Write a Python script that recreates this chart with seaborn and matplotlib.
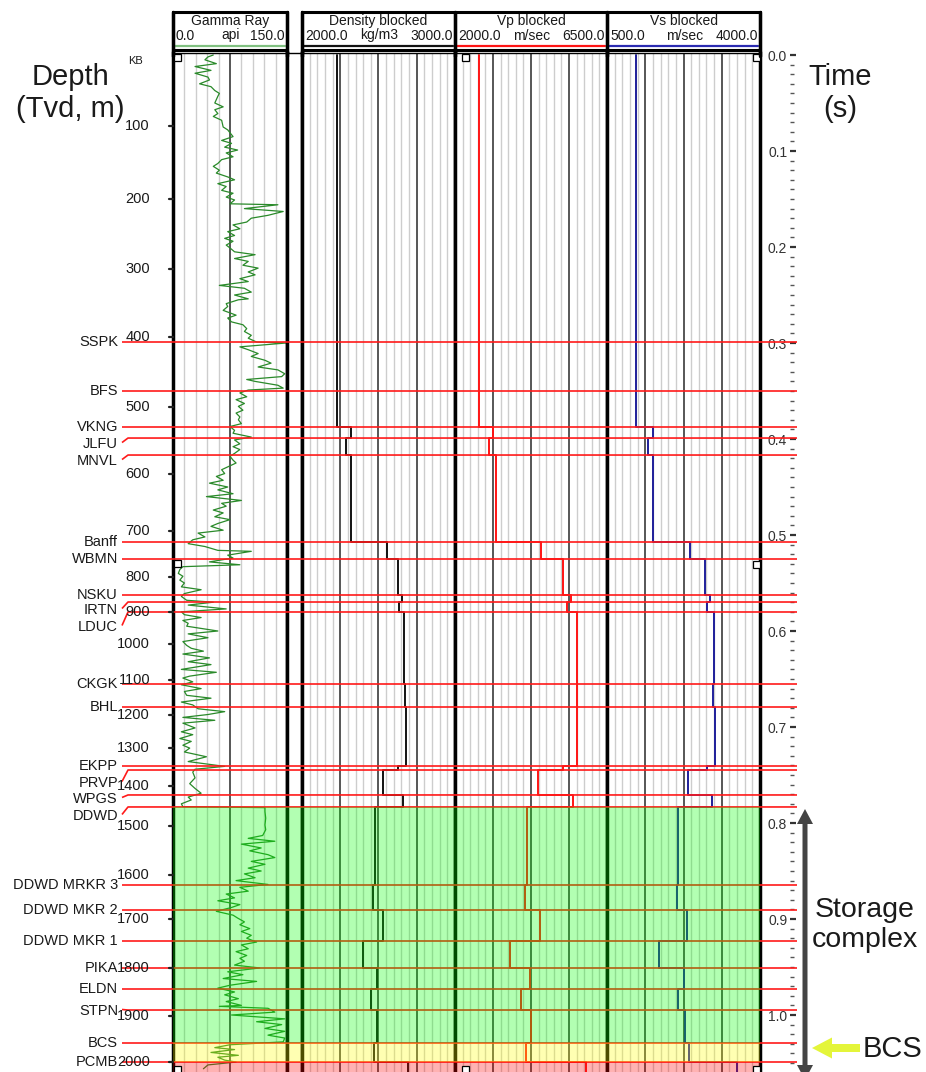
import numpy as np
import pandas as pd
import matplotlib
matplotlib.use("Agg")
import matplotlib.pyplot as plt
import seaborn as sns
from matplotlib.patches import Rectangle, FancyArrow
from matplotlib.ticker import MultipleLocator, FormatStrFormatter

sns.set_style("white")
plt.rcParams["font.family"] = ["Liberation Sans", "DejaVu Sans"]

# ------------------------------------------------------------------ data
# formation tops (two-way time, ms)
top_names = ["SSPK", "BFS", "VKNG", "JLFU", "MNVL", "Banff", "WBMN", "NSKU", "IRTN",
             "LDUC", "CKGK", "BHL", "EKPP", "PRVP", "WPGS", "DDWD", "DDWD MRKR 3",
             "DDWD MKR 2", "DDWD MKR 1", "PIKA", "ELDN", "STPN", "BCS", "PCMB"]
top_times_ms = [299.0, 350.0, 387.5, 399.0, 416.7, 507.3, 525.0, 562.5, 569.8,
                580.2, 655.2, 679.2, 740.6, 744.8, 770.8, 783.3, 864.6,
                890.6, 922.9, 951.0, 972.9, 994.8, 1029.2, 1049.0]

# blocked logs: top of each block (ms) and block values
block_tops_ms = [0.0, 387.5, 399.0, 416.7, 507.3, 525.0, 562.5, 569.8, 580.2, 655.2,
                 679.2, 740.6, 744.8, 770.8, 783.3, 864.6, 890.6, 922.9, 951.0,
                 972.9, 994.8, 1029.2, 1049.0]
density_kgm3 = [2230, 2320, 2290, 2320, 2555, 2630, 2655, 2635, 2665, 2673,
                2680, 2630, 2530, 2660, 2475, 2465, 2530, 2400, 2490,
                2450, 2490, 2470, 2695]
vp_mps = [2710, 3125, 3005, 3215, 4545, 5195, 5434, 5316, 5612, 5600,
          5612, 5197, 4457, 5493, 4131, 4072, 4516, 3628, 4220,
          3954, 4250, 4102, 5878]
vs_mps = [1163, 1552, 1438, 1552, 2399, 2742, 2856, 2788, 2948, 2925,
          2971, 2788, 2353, 2902, 2124, 2101, 2330, 1690, 2261,
          2124, 2284, 2376, 3474]
log_end_ms = 1060.0

# coloured zones (storage complex, BCS, below PCMB)
zone_tops_ms = [783.3, 1029.2, 1049.0]
zone_bases_ms = [1029.2, 1049.0, 1060.0]
zone_colors = [(0.0, 1.0, 0.0), (1.0, 1.0, 0.0), (1.0, 0.0, 0.0)]

# depth (TVD, m) tick labels and their two-way time (ms)
depth_labels = ["KB", "100", "200", "300", "400", "500", "600", "700", "800", "900",
                "1000", "1100", "1200", "1300", "1400", "1500", "1600", "1700",
                "1800", "1900", "2000"]
depth_tick_ms = [0.0, 74.0, 150.0, 222.9, 293.8, 366.7, 436.5, 495.8, 543.8, 580.2,
                 613.5, 651.0, 687.5, 721.9, 761.5, 803.1, 854.2, 900.0,
                 951.0, 1001.0, 1049.0]

# gamma ray (api) vs two-way time (ms)
gr_time_ms = [
    0, 2, 5, 9, 12, 16, 19, 23, 26, 30, 33, 37, 40, 43, 50, 54, 57, 61, 64, 68,
    75, 78, 85, 89, 92, 96, 99, 102, 106, 109, 113, 116, 120, 123, 127, 130, 134, 137, 141, 144,
    148, 151, 155, 156, 160, 163, 167, 170, 174, 177, 181, 184, 188, 191, 194, 198, 201, 205, 208, 212,
    215, 219, 222, 226, 229, 233, 236, 240, 243, 247, 250, 254,
    255, 259, 262, 266, 271, 274, 278, 281, 285, 288, 292, 295, 299, 300, 304, 307, 311, 314, 318, 321,
    325, 328, 332, 335, 338, 340, 344, 347, 349, 352, 356, 359, 363, 366, 370, 373, 377, 380, 384, 387,
    391, 394, 398, 401, 405, 408, 411, 415, 418, 422, 425, 429, 432, 436, 439, 443, 446, 450, 453, 457,
    460, 464, 467, 470, 474, 477, 481, 484, 488, 491, 495, 498, 502, 505, 509,
    512, 516, 517, 521, 524, 528, 531, 533, 536, 540, 543, 547, 550, 554, 557, 561, 564, 568, 570, 573,
    577, 580, 583, 586, 589, 592, 595, 600, 603, 607, 611, 615, 618, 621, 624, 628, 632, 635, 640, 643,
    647, 649, 653, 656, 660, 663, 667, 670, 674, 677, 681, 684, 687, 690, 693, 696, 701, 705, 708, 712,
    715, 719, 722, 726, 731, 736, 741, 744, 747, 753, 759, 764, 769, 773, 776, 780, 783,
    784, 788, 795, 802, 807, 813, 816, 819, 822, 826, 829, 833, 836, 840, 843, 847, 850, 853, 857, 860,
    864, 867, 871, 874, 878, 881, 885, 888, 892, 896, 899, 903, 906, 910, 913, 917, 920, 924, 927, 931,
    934, 938, 941, 944, 948, 951, 955, 958, 962, 965, 969, 972, 976, 979, 983, 986, 990, 991, 993, 997,
    1000, 1004, 1007, 1010, 1014, 1017, 1021, 1024, 1028, 1031, 1034, 1036, 1039, 1042, 1044, 1047,
    1049, 1052, 1056]
gr_api = [
    53, 46, 42, 57, 29, 50, 29, 46, 48, 35, 50, 55, 61, 59, 55, 66, 55, 59, 53, 64,
    66, 72, 79, 64, 77, 68, 85, 70, 79, 64, 59, 53, 61, 57, 72, 81, 59, 70, 64, 79,
    70, 81, 75, 138, 94, 145, 125, 103, 97, 79, 88, 72, 81, 68, 79, 70, 75, 81, 108, 81,
    99, 92, 112, 99, 108, 88, 99, 61, 94, 103, 81, 99,
    86, 70, 72, 66, 83, 72, 77, 92, 97, 94, 103, 99, 110, 149, 88, 99, 112, 103, 121, 129,
    112, 138, 147, 143, 97, 108, 138, 145, 99, 88, 97, 83, 94, 86, 92, 83, 88, 86, 90, 75,
    81, 79, 103, 81, 88, 79, 88, 81, 75, 79, 83, 72, 64, 68, 57, 66, 48, 72, 59, 79,
    44, 90, 64, 70, 53, 66, 55, 75, 59, 50, 66, 33, 42, 26, 20,
    42, 59, 103, 72, 79, 48, 88, 13, 9, 7, 13, 9, 15, 11, 37, 15, 11, 18, 53, 20,
    70, 11, 15, 37, 13, 20, 18, 59, 20, 46, 13, 18, 24, 40, 13, 48, 20, 50, 11, 57,
    22, 13, 26, 11, 37, 15, 18, 50, 11, 26, 33, 68, 46, 13, 55, 13, 29, 11, 26, 9,
    24, 13, 22, 15, 44, 20, 68, 29, 26, 29, 22, 29, 37, 20, 24, 11, 13,
    121, 121, 122, 121, 122, 118, 99, 134, 90, 116, 101, 125, 134, 103, 121, 99, 116, 94, 108, 83,
    125, 88, 99, 70, 81, 59, 88, 77, 57, 79, 85, 94, 88, 101, 90, 103, 97, 110, 90, 99,
    83, 97, 88, 94, 81, 114, 72, 92, 66, 110, 75, 59, 81, 68, 86, 70, 90, 61, 125, 134,
    77, 147, 110, 143, 121, 147, 125, 147, 145, 75, 55, 81, 50, 86, 59, 68,
    83, 46, 40]

# ------------------------------------------------------------------ layout (pixels)
W, H, DPI = 926, 1072, 100
PX_PER_S = 960.0
T0_PX = 55.0
TOP_PX = 53.0
TXT = "#1a1a1a"


def px2t(px):
    return (px - T0_PX) / PX_PER_S


YLIM = (px2t(H), px2t(TOP_PX))

fig = plt.figure(figsize=(W / DPI, H / DPI), dpi=DPI)


def add_ax(x0, x1, y0=TOP_PX, y1=H):
    return fig.add_axes([x0 / W, 1 - y1 / H, (x1 - x0) / W, (y1 - y0) / H])


def minors(lo, hi, step, majors):
    vals = np.arange(lo + step, hi - step / 2, step)
    return [v for v in vals if not any(abs(v - m) < 1e-6 for m in majors)]


tracks = {
    "gr": (173, 287, (0, 150), [75], minors(0, 150, 15, [75])),
    "gap": (287, 302, (0, 1), [], []),
    "den": (302, 455, (2000, 3000), [2250, 2500, 2750],
            minors(2000, 3000, 50, [2250, 2500, 2750])),
    "vp": (455, 607, (2000, 6500), [3125, 4250, 5375],
           minors(2000, 6500, 225, [3125, 4250, 5375])),
    "vs": (607, 760, (500, 4000), [1375, 2250, 3125],
           minors(500, 4000, 175, [1375, 2250, 3125])),
}
axes = {}
for key, (x0, x1, xlim, maj, mino) in tracks.items():
    ax = add_ax(x0, x1)
    ax.set_xlim(xlim)
    ax.set_ylim(YLIM)
    ax.set_xticks(maj)
    ax.set_xticks(mino, minor=True)
    ax.set_yticks([])
    ax.grid(False)
    if mino:
        ax.grid(True, which="minor", axis="x", color="#cdcdcd", lw=1.0)
    if maj:
        ax.grid(True, which="major", axis="x", color="#3a3a3a", lw=1.2)
    ax.tick_params(which="both", length=0, labelbottom=False, labelleft=False)
    for s in ("left", "right"):
        ax.spines[s].set_linewidth(2.5)
        ax.spines[s].set_color("black")
    ax.spines["top"].set_linewidth(1.0)
    ax.spines["top"].set_color("black")
    ax.spines["bottom"].set_visible(False)
    axes[key] = ax

# gamma ray curve
gr_df = pd.DataFrame({"t": np.array(gr_time_ms) / 1000.0, "GR": gr_api})
sns.lineplot(data=gr_df, x="GR", y="t", orient="y", sort=False, estimator=None,
             ax=axes["gr"], color="#2a8a2a", lw=0.9, legend=False)


def step_frame(tops_ms, vals, end_ms, name):
    bases = list(tops_ms[1:]) + [end_ms]
    t, v = [], []
    for a, b, val in zip(tops_ms, bases, vals):
        t += [a / 1000.0, b / 1000.0]
        v += [val, val]
    return pd.DataFrame({"t": t, name: v})


for key, vals, col in (("den", density_kgm3, "#111111"),
                       ("vp", vp_mps, "#ff1414"),
                       ("vs", vs_mps, "#1f1f9a")):
    df = step_frame(block_tops_ms, vals, log_end_ms, key)
    sns.lineplot(data=df, x=key, y="t", orient="y", sort=False, estimator=None,
                 ax=axes[key], color=col, lw=1.4, legend=False)

for ax in axes.values():
    ax.set_xlabel("")
    ax.set_ylabel("")
    ax.set_ylim(YLIM)

# time axis
tax = add_ax(790, 791)
tax.set_ylim(YLIM)
tax.set_facecolor("none")
for s in tax.spines.values():
    s.set_visible(False)
tax.set_xticks([])
tax.yaxis.set_major_locator(MultipleLocator(0.1))
tax.yaxis.set_minor_locator(MultipleLocator(0.01))
tax.yaxis.set_major_formatter(FormatStrFormatter("%.1f"))
tax.tick_params(axis="y", which="both", left=True, right=False)
tax.tick_params(axis="y", which="major", direction="in", length=4.5, width=1.6,
                color="#333333", labelsize=10, labelcolor="#333333", pad=2)
tax.tick_params(axis="y", which="minor", direction="in", length=2.6, width=1.0,
                color="#555555")

# overlay: tops, zones, depth labels (x in pixels, y in time)
ov = add_ax(0, W)
ov.set_xlim(0, W)
ov.set_ylim(YLIM)
ov.axis("off")
ov.patch.set_visible(False)
ov.set_zorder(5)

label_dy_px = [0, 0, 0, 6, 6, 0, 0, 0, 8, 15, 0, 0, 0, 13, 4, 9,
               0, 0, 0, 0, 0, 1, 0, 0]
for name, tms, dy in zip(top_names, top_times_ms, label_dy_px):
    t = tms / 1000.0
    lt = t + dy / PX_PER_S
    if dy:
        xs, ys = [122, 128, 797], [lt - 1.5 / PX_PER_S, t, t]
    else:
        xs, ys = [122, 797], [t, t]
    ov.plot(xs, ys, color="#ff1a1a", lw=1.2, zorder=2, solid_capstyle="butt")
    ov.text(118, lt, name, ha="right", va="center", fontsize=10.5, color=TXT, zorder=4)

for t0, t1, c in zip(zone_tops_ms, zone_bases_ms, zone_colors):
    ov.add_patch(Rectangle((173, t0 / 1000.0), 760 - 173, (t1 - t0) / 1000.0,
                           facecolor=c, alpha=0.3, lw=0, zorder=3))

for lab, tms in zip(depth_labels, depth_tick_ms):
    t = tms / 1000.0
    if lab == "KB":
        ov.text(143, t + 6 / PX_PER_S, lab, ha="right", va="center", fontsize=8,
                color=TXT, zorder=4)
        continue
    ov.text(150, t, lab, ha="right", va="center", fontsize=10.5, color=TXT, zorder=4)
    ov.plot([169, 173], [t, t], color="#222222", lw=1.6, zorder=4)

# annotation layer in pixel coordinates
ann = add_ax(0, W, 0, H)
ann.set_xlim(0, W)
ann.set_ylim(H, 0)
ann.axis("off")
ann.patch.set_visible(False)
ann.set_zorder(6)

# header boxes
headers = [
    (173, 287, "Gamma Ray", ("0.0", "api", "150.0"), "#80c080"),
    (302, 455, "Density blocked", ("2000.0", "kg/m3", "3000.0"), "#111111"),
    (455, 607, "Vp blocked", ("2000.0", "m/sec", "6500.0"), "#ff1414"),
    (607, 760, "Vs blocked", ("500.0", "m/sec", "4000.0"), "#2a2ab0"),
]
for x0, x1, title, (lo, unit, hi), col in headers:
    ann.add_patch(Rectangle((x0, 12), x1 - x0, 38, fill=False, ec="black", lw=2.2))
    ann.text((x0 + x1) / 2, 21, title, ha="center", va="center", fontsize=10, color=TXT)
    ann.text(x0 + 3, 35.5, lo, ha="left", va="center", fontsize=10, color=TXT)
    ucx = x0 + 58 if title == "Gamma Ray" else (x0 + x1) / 2 + 1
    ann.text(ucx, 35.5, unit, ha="center", va="center", fontsize=10, color=TXT)
    ann.text(x1 - 2, 35.5, hi, ha="right", va="center", fontsize=10, color=TXT)
    ann.plot([x0 + 2, x1 - 2], [46, 46], color=col, lw=1.6)
for x in (173, 287, 302, 455, 607, 760):
    ann.plot([x, x], [12, 56], color="black", lw=2.5)

# small segment markers
for (sx, sy) in [(173.5, 54), (173.5, 560), (173.5, 1066), (462, 54), (462, 1066),
                 (752.5, 54), (752.5, 561), (752.5, 1066)]:
    ann.add_patch(Rectangle((sx, sy), 7, 7, fc="white", ec="black", lw=0.9))

# titles
ann.text(70, 93, "Depth\n(Tvd, m)", ha="center", va="center", fontsize=21,
         linespacing=1.2, color=TXT)
ann.text(840, 93, "Time\n(s)", ha="center", va="center", fontsize=21,
         linespacing=1.2, color=TXT)
ann.text(865, 925, "Storage\ncomplex", ha="center", va="center", fontsize=20.5,
         linespacing=1.2, color=TXT)
ann.text(863, 1049, "BCS", ha="left", va="center", fontsize=21, color=TXT)

# storage complex double arrow
for y_end in (809, 1080):
    ann.add_patch(FancyArrow(805, 940, 0, y_end - 940, width=5, head_width=16,
                             head_length=15, length_includes_head=True,
                             color="#444444", lw=0))
# BCS arrow
ann.add_patch(FancyArrow(860, 1048, -48, 0, width=8, head_width=21, head_length=20,
                         length_includes_head=True, color="#e4f53a", lw=0))

fig.savefig("out.png", dpi=DPI)
